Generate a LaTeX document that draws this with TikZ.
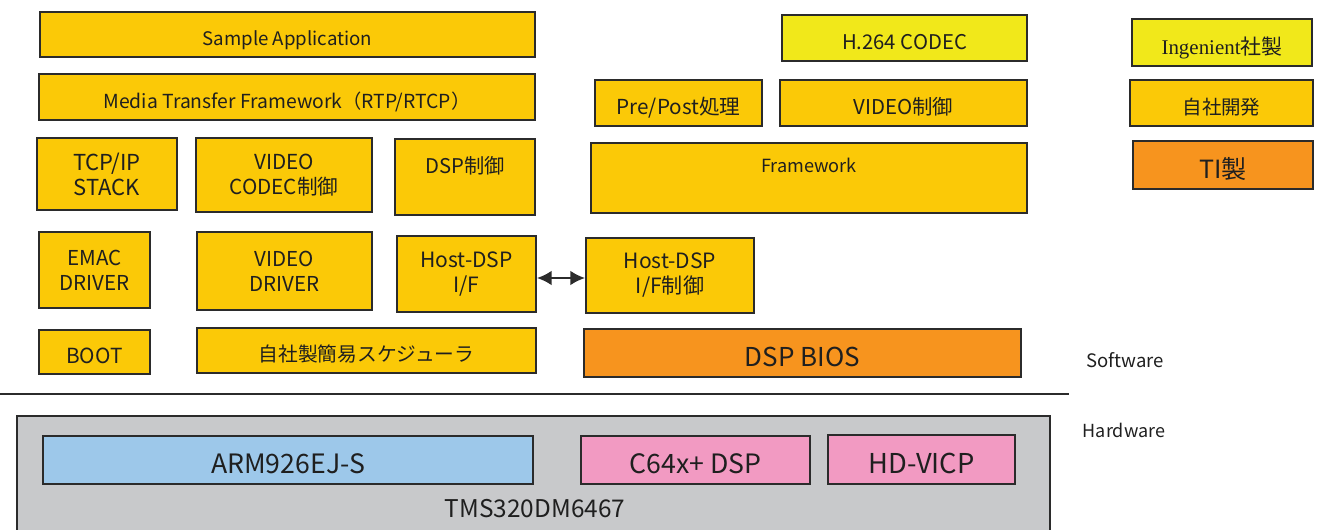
\documentclass[tikz,border=0pt]{standalone}
\usepackage{fontspec}
\setmainfont{Noto Sans CJK JP}
\newfontfamily\serifjp{Liberation Serif}
\usetikzlibrary{arrows.meta}
\definecolor{ybox}{HTML}{FBC907}
\definecolor{lybox}{HTML}{F1E81A}
\definecolor{obox}{HTML}{F7941E}
\definecolor{bbox}{HTML}{9DC8EA}
\definecolor{pbox}{HTML}{F29AC2}
\definecolor{gbox}{HTML}{C8C9CB}
\definecolor{edge}{HTML}{2B2B2B}
\tikzset{
  blk/.style={draw=edge, line width=1.4pt, inner sep=0pt, align=center, text=black!88},
  yb/.style={blk, fill=ybox},
  lyb/.style={blk, fill=lybox},
  ob/.style={blk, fill=obox},
  bb/.style={blk, fill=bbox},
  pb/.style={blk, fill=pbox},
  fs/.style={font=\fontsize{#1}{18.75}\selectfont},
  one/.style={fs=#1, text depth=0pt, text height={0.733*#1pt+6pt}},
  sz/.style 2 args={minimum width={#1*0.75pt}, minimum height={#2*0.75pt}},
  lbl/.style={inner sep=0pt, text=black!88}
}
\begin{document}
\begin{tikzpicture}[x=0.75pt,y=-0.75pt]
\useasboundingbox (0,0) rectangle (1317,529);
\clip (0,0) rectangle (1317,529);
% hardware chip
\node[blk, fill=gbox, sz={1033}{130}] (chip) at (533.5,481) {};
\node[lbl, fs=18.3] (chipname) at (535,509) {TMS320DM6467};
\node[bb, one=20, sz={490}{48}] (arm) at (288,460) {ARM926EJ-S};
\node[pb, one=20, sz={229}{48}] (c64) at (695.5,460) {C64x+ DSP};
\node[pb, one=20.5, sz={187}{49}] (vicp) at (921.5,459.5) {HD-VICP};
% separator
\coordinate (sepL) at (0,394);
\coordinate (sepR) at (1069,394);
\draw[edge, line width=1.4pt] (sepL) -- (sepR);
\node[lbl, fs=13.9] (sw) at (1125,360) {Software};
\node[lbl, fs=13.5] (hw) at (1124,430) {Hardware};
% ARM side software
\node[yb, one=14, sz={495}{45}] (app) at (287.5,34.5) {Sample Application};
\node[yb, one=14.5, sz={496}{46}] (mtf) at (287,97) {Media Transfer Framework（RTP/RTCP）};
\node[yb, fs=16.5, sz={140}{72}] (tcp) at (107,174) {TCP/IP\\STACK};
\node[yb, fs=15.5, sz={176}{74}] (vcc) at (284,175) {VIDEO\\CODEC制御};
\node[yb, fs=15.2, sz={140}{76}] (dspc) at (465,177) {DSP制御\\\mbox{}};
\node[yb, fs=15.4, sz={111}{76}] (emac) at (94.5,270) {EMAC\\DRIVER};
\node[yb, fs=15.4, sz={175}{78}] (vdrv) at (284.5,271) {VIDEO\\DRIVER};
\node[yb, fs=15.8, sz={139}{76}] (hif) at (466.5,274) {Host-DSP\\I/F};
\node[yb, one=15.6, sz={111}{44}] (boot) at (94.5,352) {BOOT};
\node[yb, one=14.8, sz={339}{45}] (sched) at (366.5,350.5) {自社製簡易スケジューラ};
% DSP side software
\node[lyb, one=15.2, sz={245}{46}] (h264) at (904.5,38) {H.264 CODEC};
\node[yb, one=15.5, sz={167}{46}] (prepost) at (678.5,103) {Pre/Post処理};
\node[yb, one=15.3, sz={247}{46}] (vctl) at (903.5,103) {VIDEO制御};
\node[yb, fs=13.6, sz={436}{70}] (fw) at (809,178) {Framework\\\mbox{}};
\node[yb, fs=15.8, sz={168}{75}] (hifc) at (670,275.5) {Host-DSP\\I/F制御};
\node[ob, one=19.5, sz={437}{48}] (bios) at (802.5,353) {DSP BIOS};
% legend
\node[lyb, one=15.7, sz={180}{47}] (lgI) at (1222,42.5) {{\serifjp Ingenient}社製};
\node[yb, one=14.6, sz={183}{46}] (lgS) at (1221.5,103) {自社開発};
\node[ob, one=18.8, sz={180}{48}] (lgT) at (1223,165) {TI製};
% connector
\draw[edge, line width=1.6pt, {Latex[length=11pt,width=11pt]}-{Latex[length=11pt,width=11pt]}]
  ([yshift=-3pt]hif.east) -- ([yshift=-3pt]hif.east -| hifc.west);
\end{tikzpicture}
\end{document}
